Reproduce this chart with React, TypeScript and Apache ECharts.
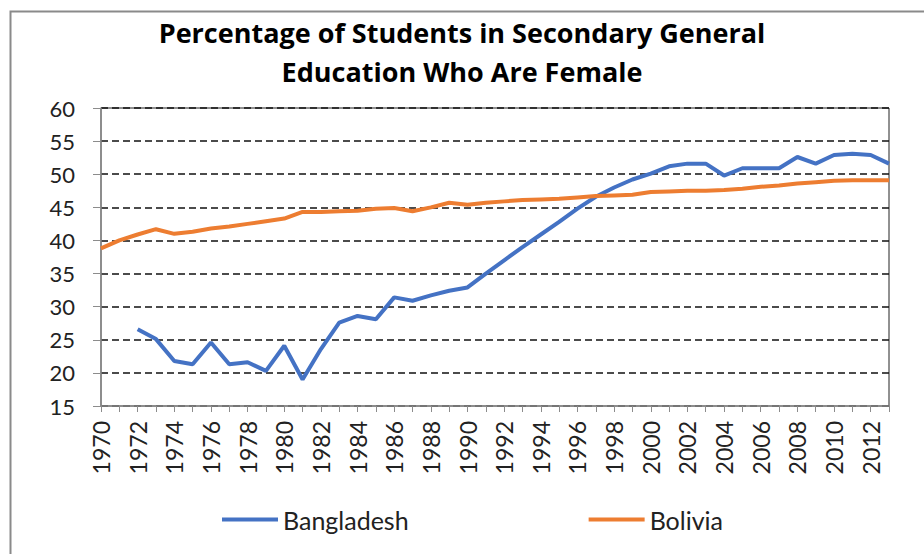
import React, { useEffect, useRef } from "react";
import * as echarts from "echarts";

const years: string[] = [
  "1970","1971","1972","1973","1974","1975","1976","1977","1978","1979",
  "1980","1981","1982","1983","1984","1985","1986","1987","1988","1989",
  "1990","1991","1992","1993","1994","1995","1996","1997","1998","1999",
  "2000","2001","2002","2003","2004","2005","2006","2007","2008","2009",
  "2010","2011","2012","2013",
];

const bangladesh: (number | null)[] = [
  null, null, 26.6, 25.1, 21.8, 21.3, 24.6, 21.3, 21.6, 20.3,
  24.1, 19.0, 23.6, 27.6, 28.6, 28.1, 31.4, 30.9, 31.7, 32.4,
  32.9, 35.0, 37.0, 39.0, 40.9, 42.8, 44.8, 46.6, 48.0, 49.2,
  50.1, 51.2, 51.6, 51.6, 49.8, 50.9, 50.9, 50.9, 52.6, 51.6,
  52.9, 53.1, 52.9, 51.6,
];

const bolivia: number[] = [
  38.8, 40.0, 40.9, 41.7, 41.0, 41.3, 41.8, 42.1, 42.5, 42.9,
  43.3, 44.3, 44.3, 44.4, 44.5, 44.8, 44.9, 44.4, 45.0, 45.7,
  45.4, 45.7, 45.9, 46.1, 46.2, 46.3, 46.5, 46.7, 46.8, 46.9,
  47.3, 47.4, 47.5, 47.5, 47.6, 47.8, 48.1, 48.3, 48.6, 48.8,
  49.0, 49.1, 49.1, 49.1,
];

const titleText = "Percentage of Students in Secondary General\nEducation Who Are Female";
const FONT = "Lato";

export default function App() {
  const ref = useRef<HTMLDivElement>(null);
  useEffect(() => {
    if (!ref.current) return;
    const chart = echarts.init(ref.current, undefined, { renderer: "svg" });
    chart.setOption({
      animation: false,
      backgroundColor: "#ffffff",
      title: {
        text: titleText,
        left: 457,
        top: 8,
        textAlign: "center",
        textStyle: {
          fontFamily: "Open Sans",
          fontSize: 27,
          fontWeight: "bold",
          color: "#000",
          lineHeight: 39,
        },
      },
      graphic: [
        {
          type: "rect",
          left: 8,
          top: 9,
          shape: { x: 0, y: 0, width: 940, height: 580 },
          style: { fill: "none", stroke: "#8a8a8a", lineWidth: 2 },
          silent: true,
        },
      ],
      legend: {
        left: 217,
        top: 502,
        itemGap: 180,
        itemWidth: 56,
        itemHeight: 4,
        icon: "rect",
        textStyle: { fontFamily: FONT, fontSize: 25, color: "#222" },
        data: ["Bangladesh", "Bolivia"],
      },
      grid: {
        left: 101,
        right: 35,
        top: 108,
        bottom: 148,
        show: true,
        borderColor: "#222",
        borderWidth: 1,
        backgroundColor: "transparent",
      },
      xAxis: {
        type: "category",
        data: years,
        boundaryGap: false,
        axisLine: { lineStyle: { color: "#8c8c8c", width: 1.5 } },
        axisTick: { show: true, interval: 0, length: 6, lineStyle: { color: "#8c8c8c" } },
        axisLabel: {
          interval: 1,
          rotate: 90,
          margin: 15,
          fontFamily: FONT,
          fontSize: 23,
          color: "#222",
        },
        splitLine: { show: false },
      },
      yAxis: {
        type: "value",
        min: 15,
        max: 60,
        interval: 5,
        axisLine: { show: true, lineStyle: { color: "#8c8c8c", width: 1.5 } },
        axisTick: { show: true, length: 8, lineStyle: { color: "#8c8c8c" } },
        axisLabel: {
          fontFamily: FONT,
          fontSize: 22,
          color: "#222",
          margin: 26,
        },
        splitLine: {
          show: true,
          lineStyle: { color: "#111", type: [7, 4], width: 1.5 },
        },
      },
      series: [
        {
          name: "Bangladesh",
          type: "line",
          data: bangladesh,
          showSymbol: false,
          symbol: "none",
          connectNulls: false,
          lineStyle: { color: "#4472C4", width: 4 },
          itemStyle: { color: "#4472C4" },
        },
        {
          name: "Bolivia",
          type: "line",
          data: bolivia,
          showSymbol: false,
          symbol: "none",
          lineStyle: { color: "#ED7D31", width: 4 },
          itemStyle: { color: "#ED7D31" },
        },
      ],
    });
    return () => chart.dispose();
  }, []);
  return (
    <div
      ref={ref}
      style={{ position: "fixed", left: 0, top: 0, width: 924, height: 554 }}
    />
  );
}
